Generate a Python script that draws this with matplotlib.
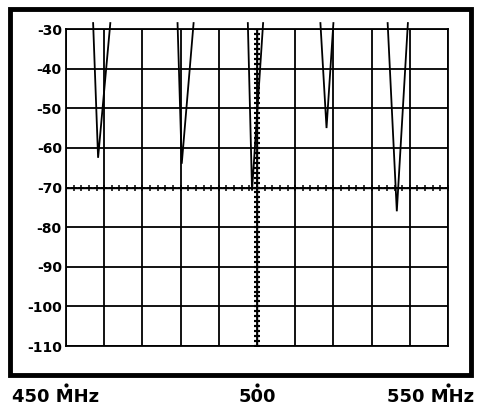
import matplotlib.pyplot as plt
from matplotlib.patches import Rectangle
from matplotlib.transforms import blended_transform_factory
import numpy as np

# spectrum analyzer sweep, 450-550 MHz, dBm
dip_left = [457.1, 479.2, 497.6, 516.6, 534.2]     # MHz, where falling arm leaves top
dip_center = [458.4, 480.3, 498.7, 518.2, 536.6]   # MHz, notch bottom
dip_depth = [-62.5, -64.0, -70.8, -55.0, -76.0]    # dBm, notch bottom
dip_right = [461.6, 483.4, 501.6, 520.0, 539.5]    # MHz, rising arm reaches top
trace_top = -28.5

ref_level = -70
center_freq = 500
y_ticks = [-30, -40, -50, -60, -70, -80, -90, -100, -110]
x_labels = ["450 MHz", "500", "550 MHz"]
x_label_pos = [450, 500, 550]

fig = plt.figure(figsize=(4.79, 4.11), dpi=100)
ax = fig.add_axes([66 / 479, 65 / 411, 382 / 479, 317 / 411])

ax.set_xlim(450, 550)
ax.set_ylim(-110, -30)
ax.set_xticks(np.arange(450, 551, 10))
ax.set_yticks(y_ticks)
ax.set_xticklabels([])
ax.set_yticklabels([str(t) for t in y_ticks],
                   family=["Liberation Sans Narrow", "DejaVu Sans"],
                   fontweight="bold", fontsize=10)
ax.tick_params(length=0, pad=3)
ax.grid(True, color="black", linewidth=1.3)
for s in ax.spines.values():
    s.set_linewidth(1.3)

# marker lines: reference level and center frequency
ax.plot([450, 550], [ref_level, ref_level], color="black", lw=1.0)
ax.plot([center_freq, center_freq], [-30, -110], color="black", lw=1.0)
ax.plot(np.linspace(450, 550, 51), np.full(51, ref_level), ls="none",
        marker="+", ms=4, mew=1.1, color="black")
ax.plot(np.full(65, center_freq), np.linspace(-110, -30, 65), ls="none",
        marker="_", ms=5, mew=1.6, color="black")

# trace notches
for l, c, d, r in zip(dip_left, dip_center, dip_depth, dip_right):
    ax.plot([l, c, r], [trace_top, d, trace_top], color="black", lw=1.3,
            clip_on=False, solid_joinstyle="miter")

# outer frame
fig.patches.append(Rectangle((10 / 479, 36 / 411), 461 / 479, 366 / 411,
                             transform=fig.transFigure, fill=False,
                             edgecolor="black", linewidth=3.5))

# frequency labels below the frame
tr = blended_transform_factory(ax.transData, fig.transFigure)
ax.plot(x_label_pos, [26 / 411] * 3, ls="none", marker="o", ms=2,
        color="black", transform=tr, clip_on=False)
offsets = [-10, 0, -17]
for x, lab, off in zip(x_label_pos, x_labels, offsets):
    ax.annotate(lab, xy=(x, 9 / 411), xycoords=("data", "figure fraction"),
                xytext=(off * 0.72, 0), textcoords="offset points",
                ha="center", va="baseline", fontsize=13, fontweight="bold",
                annotation_clip=False)

fig.savefig("out.png", dpi=100)
